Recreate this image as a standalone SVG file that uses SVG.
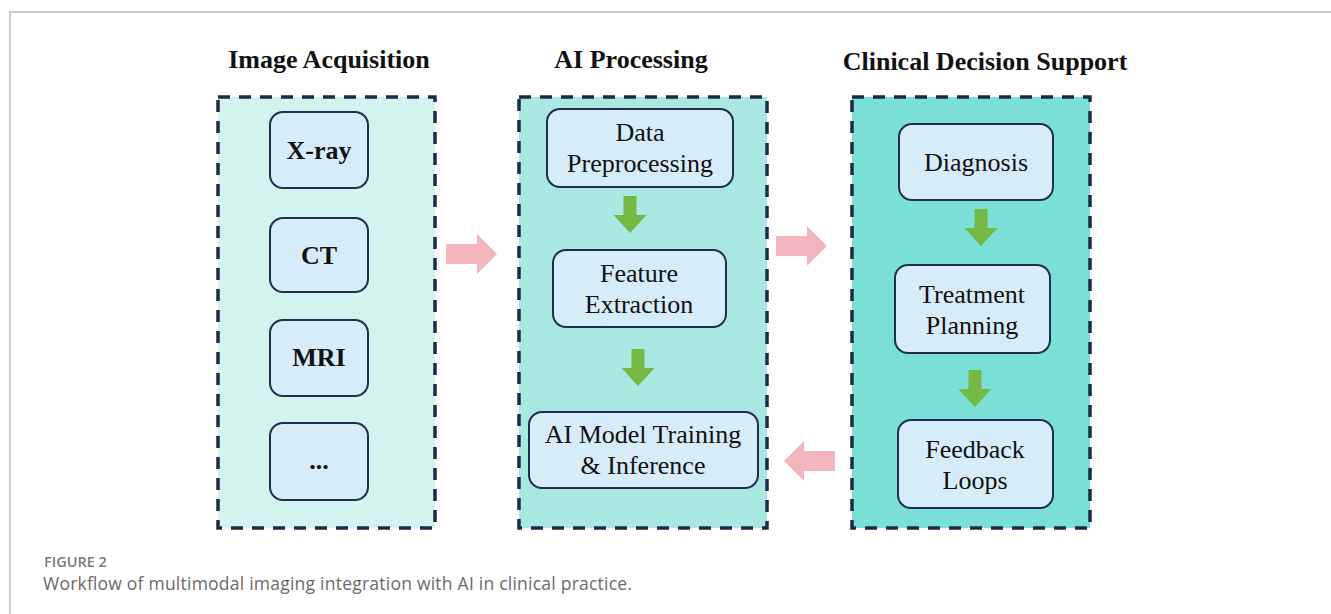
<svg xmlns="http://www.w3.org/2000/svg" width="1331" height="614" viewBox="0 0 1331 614">
  <style>
    .frame { fill: #ffffff; stroke: #bdbdbd; stroke-width: 1.5; }
    .panel { stroke: #1b2a4b; stroke-width: 3.5; stroke-dasharray: 12 9; }
    .node { fill: #d6ecf9; stroke: #1f2d4e; stroke-width: 2; }
    .head { font-family: "Liberation Serif", "Times New Roman", serif; font-weight: bold; font-size: 26px; fill: #111; text-anchor: middle; }
    .lbl { font-family: "Liberation Serif", "Times New Roman", serif; font-size: 26px; fill: #111; text-anchor: middle; }
    .bold { font-weight: bold; }
    .green { fill: #76b843; }
    .pink { fill: #f4b6be; }
    .cap1 { font-family: "Open Sans", "Noto Sans", sans-serif; font-size: 14.5px; font-weight: 600; fill: #7a7a7a; }
    .cap2 { font-family: "Open Sans", "Noto Sans", sans-serif; font-size: 17.5px; fill: #6a6a6a; }
  </style>
  <defs>
    <!-- block arrow pointing down, origin at top centre of shaft -->
    <path id="down" d="M -6.5 0 H 6.5 V 19 H 16.5 L 0 37 L -16.5 19 H -6.5 Z"/>
    <!-- block arrow pointing right, origin at left centre of shaft -->
    <path id="right" d="M 0 -10 H 31 V -20 L 51 0 L 31 20 V 10 H 0 Z"/>
  </defs>

  <rect class="frame" x="10" y="12" width="1340" height="620"/>

  <!-- column headings -->
  <text class="head" x="329" y="68">Image Acquisition</text>
  <text class="head" x="631" y="68">AI Processing</text>
  <text class="head" x="985" y="70">Clinical Decision Support</text>

  <!-- panels -->
  <g id="panel-acquisition">
    <rect class="panel" x="218" y="97" width="217" height="431" fill="#d3f3ef"/>
  </g>
  <g id="panel-processing">
    <rect class="panel" x="519" y="97" width="248" height="431" fill="#a9e8e0"/>
  </g>
  <g id="panel-decision">
    <rect class="panel" x="852" y="97" width="238" height="431" fill="#7adfd5"/>
  </g>

  <!-- acquisition nodes -->
  <g id="node-xray">
    <rect class="node" x="270" y="112" width="98" height="76" rx="13"/>
    <text class="lbl bold" x="319" y="159">X-ray</text>
  </g>
  <g id="node-ct">
    <rect class="node" x="270" y="218" width="98" height="74" rx="13"/>
    <text class="lbl bold" x="319" y="264">CT</text>
  </g>
  <g id="node-mri">
    <rect class="node" x="270" y="320" width="98" height="76" rx="13"/>
    <text class="lbl bold" x="319" y="366">MRI</text>
  </g>
  <g id="node-more">
    <rect class="node" x="270" y="423" width="98" height="77" rx="13"/>
    <text class="lbl bold" x="319" y="469">...</text>
  </g>

  <!-- processing nodes -->
  <g id="node-preprocessing">
    <rect class="node" x="547" y="109" width="186" height="78" rx="13"/>
    <text class="lbl" x="640" y="141">Data</text>
    <text class="lbl" x="640" y="172">Preprocessing</text>
  </g>
  <g id="node-feature">
    <rect class="node" x="553" y="250" width="173" height="77" rx="13"/>
    <text class="lbl" x="639" y="282">Feature</text>
    <text class="lbl" x="639" y="313">Extraction</text>
  </g>
  <g id="node-model">
    <rect class="node" x="529" y="412" width="229" height="76" rx="13"/>
    <text class="lbl" x="643" y="443">AI Model Training</text>
    <text class="lbl" x="643" y="474">&amp; Inference</text>
  </g>

  <!-- decision nodes -->
  <g id="node-diagnosis">
    <rect class="node" x="899" y="124" width="154" height="76" rx="13"/>
    <text class="lbl" x="976" y="171">Diagnosis</text>
  </g>
  <g id="node-treatment">
    <rect class="node" x="895" y="265" width="155" height="88" rx="13"/>
    <text class="lbl" x="972" y="303">Treatment</text>
    <text class="lbl" x="972" y="334">Planning</text>
  </g>
  <g id="node-feedback">
    <rect class="node" x="898" y="420" width="155" height="88" rx="13"/>
    <text class="lbl" x="975" y="458">Feedback</text>
    <text class="lbl" x="975" y="489">Loops</text>
  </g>

  <!-- connectors -->
  <g id="connectors">
    <use href="#down" class="green" x="630" y="196"/>
    <use href="#down" class="green" x="638" y="349"/>
    <use href="#down" class="green" x="981" y="209"/>
    <use href="#down" class="green" x="975" y="370"/>
    <use href="#right" class="pink" x="446" y="254"/>
    <use href="#right" class="pink" x="776" y="246"/>
    <use href="#right" class="pink" transform="translate(835 461) scale(-1 1)"/>
  </g>

  <!-- caption -->
  <text class="cap1" x="44" y="567">FIGURE 2</text>
  <text class="cap2" x="43" y="590" textLength="589" lengthAdjust="spacing">Workflow of multimodal imaging integration with AI in clinical practice.</text>
</svg>
